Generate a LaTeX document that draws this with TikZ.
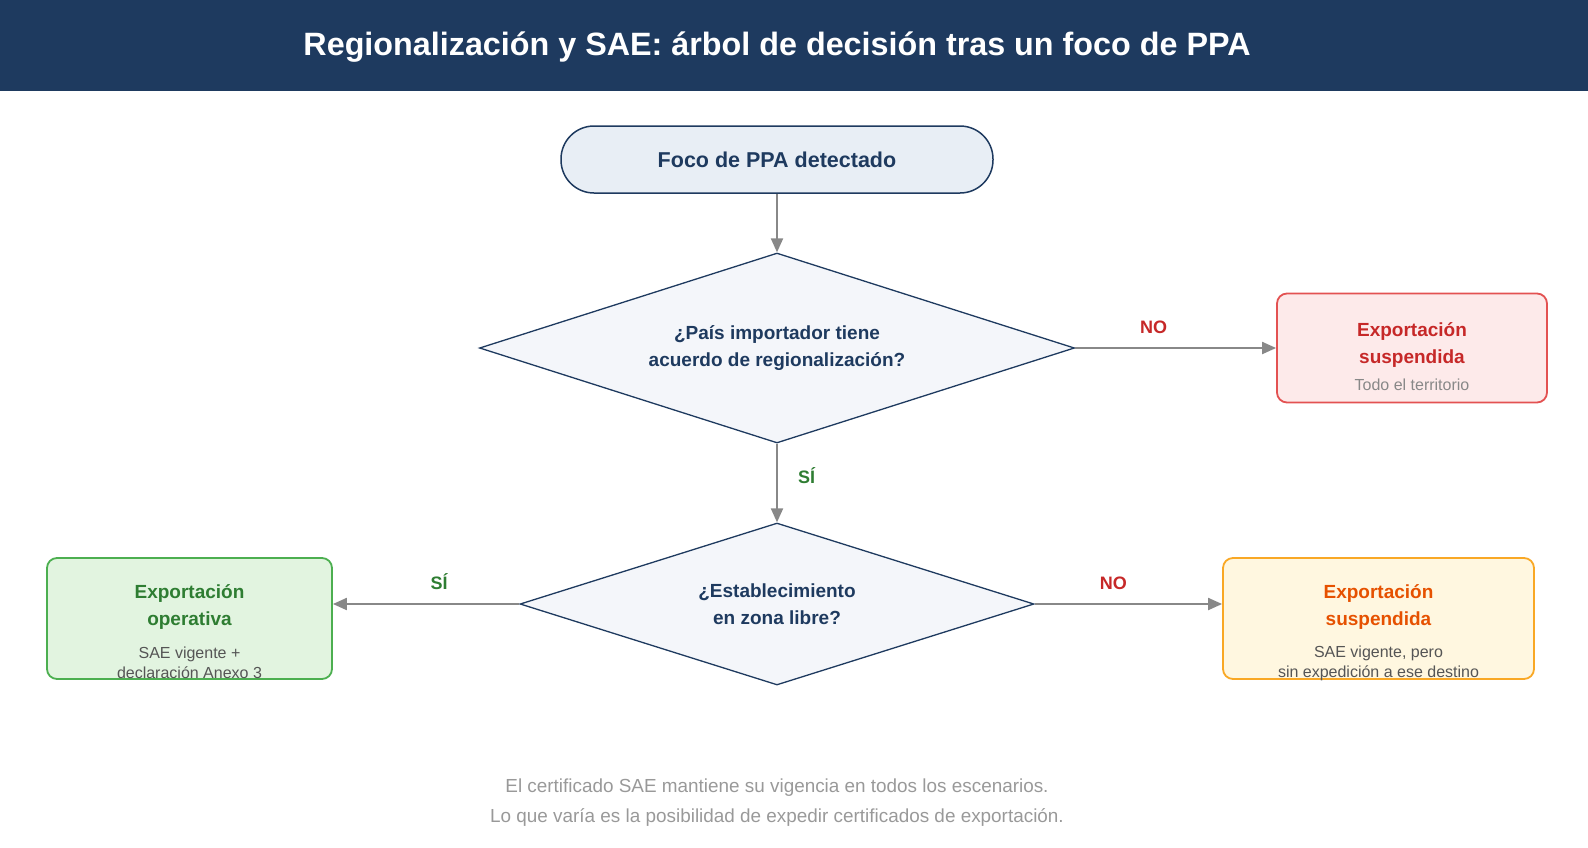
\documentclass[tikz,border=0pt]{standalone}
\usepackage{fontspec}
\setmainfont{Liberation Sans}
\usetikzlibrary{shapes.geometric,arrows.meta}

\definecolor{navy}{HTML}{1E3A5F}
\definecolor{startfill}{HTML}{E8EEF5}
\definecolor{askfill}{HTML}{F4F6FA}
\definecolor{arrgray}{HTML}{888888}
\definecolor{redline}{HTML}{E35252}
\definecolor{redfill}{HTML}{FDEAEA}
\definecolor{redtext}{HTML}{C62828}
\definecolor{greenline}{HTML}{4CAF50}
\definecolor{greenfill}{HTML}{E2F4E0}
\definecolor{greentext}{HTML}{2E7D32}
\definecolor{orangeline}{HTML}{F9A825}
\definecolor{orangefill}{HTML}{FFF7E0}
\definecolor{orangetext}{HTML}{E65100}
\definecolor{subgray}{HTML}{555555}
\definecolor{lightgray}{HTML}{888888}
\definecolor{notegray}{HTML}{999999}

\begin{document}
\begin{tikzpicture}[x=1pt, y=-1pt]

\tikzstyle{every node} = [inner sep=0pt, align=center]
\tikzstyle{ask} = [diamond, aspect=3.1, draw=navy, fill=askfill, line width=1.3pt, text=navy, font=\fontsize{19}{27}\selectfont\bfseries]
\tikzstyle{endbox} = [rectangle, rounded corners=10pt, line width=1.8pt]
\tikzstyle{head} = [font=\fontsize{19}{27}\selectfont\bfseries]
\tikzstyle{sub} = [font=\fontsize{16}{20}\selectfont]
\tikzstyle{lbl} = [font=\fontsize{18}{22}\selectfont\bfseries]
\tikzstyle{arr} = [-{Triangle[length=14pt,width=12pt]}, draw=arrgray, line width=2pt]

\useasboundingbox (0,0) rectangle (1588,847);
\fill[navy] (0,0) rectangle (1588,91);
\node[text=white, font=\fontsize{32.3}{38}\selectfont\bfseries] (t) at (777,47) {Regionalización y SAE: árbol de decisión tras un foco de PPA};

\node[rectangle, rounded corners=33pt, draw=navy, fill=startfill, line width=1.5pt, minimum width=432pt, minimum height=67pt, text=navy, font=\fontsize{21.5}{25}\selectfont\bfseries] (s) at (777,159.5) {Foco de PPA detectado};

\node[ask, minimum width=595pt, minimum height=190pt] (q) at (777,348) {¿País importador tiene\\acuerdo de regionalización?};
\node[ask, minimum width=514pt, minimum height=162pt] (z) at (777,604) {¿Establecimiento\\en zona libre?};

\node[endbox, draw=redline, fill=redfill, minimum width=270pt, minimum height=109pt] (r) at (1412,348) {};
\node[head, text=redtext] (rh) at (1412,344.5) {Exportación\\suspendida};
\node[sub, text=lightgray] (rs) at (1412,385) {Todo el territorio};

\node[endbox, draw=greenline, fill=greenfill, minimum width=285pt, minimum height=121pt] (g) at (189.5,618.5) {};
\node[head, text=greentext] (gh) at (189.5,606.5) {Exportación\\operativa};
\node[sub, text=subgray] (gs) at (189.5,663) {SAE vigente +\\declaración Anexo 3};

\node[endbox, draw=orangeline, fill=orangefill, minimum width=311pt, minimum height=121pt] (o) at (1378.5,618.5) {};
\node[head, text=orangetext] (oh) at (1378.5,606.5) {Exportación\\suspendida};
\node[sub, text=subgray] (os) at (1378.5,663) {SAE vigente, pero\\sin expedición a ese destino};

\node[text=notegray, font=\fontsize{18.9}{29.5}\selectfont] (n) at (777,802.5) {El certificado SAE mantiene su vigencia en todos los escenarios.\\Lo que varía es la posibilidad de expedir certificados de exportación.};

\draw[arr] (s) -- (q);
\draw[arr] (q.east) -- node[lbl, text=redtext, pos=0.39, above=13pt] {NO} (r.west);
\draw[arr] (q) -- node[lbl, text=greentext, pos=0.41, right=20pt] {SÍ} (z);
\draw[arr] (z.west) -- node[lbl, text=greentext, pos=0.43, above=13pt] {SÍ} (z.west -| g.east);
\draw[arr] (z.east) -- node[lbl, text=redtext, pos=0.42, above=13pt] {NO} (z.east -| o.west);

\end{tikzpicture}
\end{document}
